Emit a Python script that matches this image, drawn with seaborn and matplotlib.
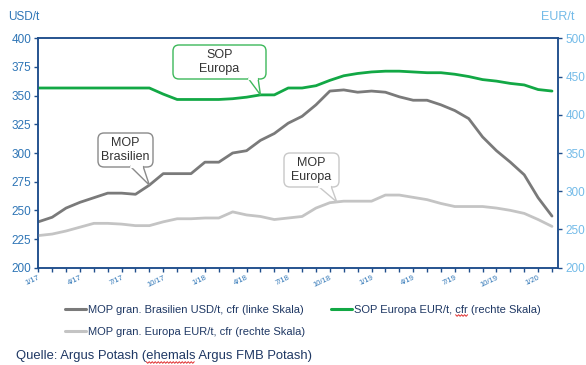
import matplotlib
matplotlib.use("Agg")
import matplotlib.pyplot as plt
import numpy as np
import pandas as pd
import seaborn as sns
from matplotlib.patches import FancyBboxPatch, Polygon
from matplotlib.lines import Line2D

# ---------------- data ----------------
months = ["1/17", "2/17", "3/17", "4/17", "5/17", "6/17", "7/17", "8/17", "9/17", "10/17", "11/17", "12/17",
          "1/18", "2/18", "3/18", "4/18", "5/18", "6/18", "7/18", "8/18", "9/18", "10/18", "11/18", "12/18",
          "1/19", "2/19", "3/19", "4/19", "5/19", "6/19", "7/19", "8/19", "9/19", "10/19", "11/19", "12/19",
          "1/20", "2/20"]
tick_labels = ["1/17", "4/17", "7/17", "10/17", "1/18", "4/18", "7/18", "10/18",
               "1/19", "4/19", "7/19", "10/19", "1/20"]
mop_brasilien_usd = [240, 244, 252, 257, 261, 265, 265, 264, 272, 282, 282, 282, 292, 292, 300,
                     302, 311, 317, 326, 332, 342, 354, 355, 353, 354, 353, 349, 346, 346, 342,
                     337, 330, 314, 302, 292, 281, 261, 245]
mop_europa_eur = [242, 244, 248, 253, 258, 258, 257, 255, 255, 260, 264, 264, 265, 265, 273,
                  269, 267, 263, 265, 267, 278, 285, 287, 287, 287, 295, 295, 292, 289, 284,
                  280, 280, 280, 278, 275, 271, 263, 254]
sop_europa_eur = [435, 435, 435, 435, 435, 435, 435, 435, 435, 427, 420, 420, 420, 420, 421,
                  423, 426, 426, 435, 435, 438, 445, 451, 454, 456, 457, 457, 456, 455, 455,
                  453, 450, 446, 444, 441, 439, 433, 431]

legend_labels = ["MOP gran. Brasilien USD/t, cfr (linke Skala)",
                 "MOP gran. Europa EUR/t, cfr (rechte Skala)",
                 "SOP Europa EUR/t, cfr (rechte Skala)"]
source_text = "Quelle: Argus Potash (ehemals Argus FMB Potash)"

df = pd.DataFrame({
    "idx": np.arange(len(months)),
    "month": months,
    "brasilien": mop_brasilien_usd,
    "europa": mop_europa_eur,
    "sop": sop_europa_eur,
})

# ---------------- style ----------------
sns.set_style("white")
plt.rcParams["font.family"] = ["Liberation Sans", "DejaVu Sans"]

C_DARK = "#7A7A7A"
C_LIGHT = "#C4C4C4"
C_GREEN = "#12A845"
C_SPINE = "#1F4E8C"
C_LEFT = "#2E75B6"
C_RIGHT = "#74BBE8"
C_NAVY = "#1F3864"

W, H = 586, 365
fig = plt.figure(figsize=(W / 100, H / 100), dpi=100)
fig.patch.set_facecolor("white")

left_px, right_px, top_px, bot_px = 38.3, 558.3, 38.3, 267.7
ax = fig.add_axes([left_px / W, 1 - bot_px / H, (right_px - left_px) / W, (bot_px - top_px) / H])
ax2 = ax.twinx()

sns.lineplot(data=df, x="idx", y="brasilien", ax=ax, color=C_DARK, lw=2.0)
sns.lineplot(data=df, x="idx", y="europa", ax=ax2, color=C_LIGHT, lw=2.0)
sns.lineplot(data=df, x="idx", y="sop", ax=ax2, color=C_GREEN, lw=2.0)

n = len(months)
ax.set_xlim(0, n - 1 + 6.3 / 13.88)
ax.set_ylim(200, 400)
ax2.set_ylim(200, 500)
for a in (ax, ax2):
    a.set_xlabel("")
    a.set_ylabel("")

ax.set_yticks(np.arange(200, 401, 25))
ax2.set_yticks(np.arange(200, 501, 50))
ax.set_xticks(df["idx"])
ax.set_xticklabels([m if m in tick_labels else "" for m in months], rotation=25, ha="right",
                   rotation_mode="anchor", fontsize=5.5, color=C_LEFT)

ax.tick_params(axis="y", colors=C_SPINE, labelcolor=C_LEFT, labelsize=8.5, length=3, width=1, pad=2,
               direction="out", left=True)
ax.tick_params(axis="x", colors=C_SPINE, labelcolor=C_LEFT, length=3, width=1, pad=2, direction="out",
               bottom=True)
ax2.tick_params(axis="y", colors=C_SPINE, labelcolor=C_RIGHT, labelsize=8.5, length=3, width=1, pad=2,
                direction="out", right=True)

for a in (ax, ax2):
    for s in a.spines.values():
        s.set_visible(True)
        s.set_color(C_SPINE)
        s.set_linewidth(1.1)
    a.grid(False)
    if a.get_legend():
        a.get_legend().remove()

fig.text(8 / W, 1 - 17 / H, "USD/t", fontsize=8.5, color=C_LEFT, va="center", ha="left")
fig.text(541 / W, 1 - 17 / H, "EUR/t", fontsize=9, color=C_RIGHT, va="center", ha="left")

# ---------------- legend ----------------
handles = [Line2D([], [], color=C_DARK, lw=2.2),
           Line2D([], [], color=C_LIGHT, lw=2.2),
           Line2D([], [], color=C_GREEN, lw=2.2)]
leg = fig.legend(handles, legend_labels, loc="upper left", bbox_to_anchor=(65 / W, 1 - 305 / H),
                 ncol=2, frameon=False, fontsize=8, labelcolor=C_NAVY, handlelength=1.9,
                 handletextpad=0.2, columnspacing=2.3, labelspacing=1.05, borderpad=0, borderaxespad=0)

src = fig.text(16 / W, 1 - 356 / H, source_text, fontsize=9.4, color=C_NAVY, va="center", ha="left")

fig.canvas.draw()
renderer = fig.canvas.get_renderer()
to_in = fig.dpi_scale_trans.inverted()


def squiggle(text_artist, prefix, word, fontsize):
    """red spell-check wave under a word of a text artist"""
    ext = text_artist.get_window_extent(renderer)
    tmp = fig.text(0, 0, prefix, fontsize=fontsize)
    w0 = tmp.get_window_extent(renderer).width
    tmp.set_text(prefix + word)
    w1 = tmp.get_window_extent(renderer).width
    tmp.remove()
    xa, xb = ext.x0 + w0, ext.x0 + w1
    y = ext.y0 - 0.5
    xs = np.arange(xa, xb + 0.1, 1.5)
    ys = y + np.where(np.arange(len(xs)) % 2 == 0, 0.8, -0.8)
    fig.add_artist(Line2D(xs, ys, transform=None, color="#E03030", lw=0.7, zorder=9))


squiggle(leg.get_texts()[2], "SOP Europa EUR/t, ", "cfr", 8)
squiggle(src, "Quelle: Argus Potash (", "ehemals", 9.4)

# ---------------- callouts ----------------


def callout(target_ax, xy, box_px, base_px, text, ec):
    x0, y0, x1, y1 = box_px  # ref pixel coordinates (top-down)
    bx, by = x0 / 100, (H - y1) / 100
    bw, bh = (x1 - x0) / 100, (y1 - y0) / 100
    tip = to_in.transform(target_ax.transData.transform(xy))
    b0 = (base_px[0] / 100, by + 0.01)
    b1 = (base_px[1] / 100, by + 0.01)
    box = FancyBboxPatch((bx, by), bw, bh, boxstyle="round,pad=0,rounding_size=0.06",
                         transform=fig.dpi_scale_trans, fc="white", ec=ec, lw=1.0, zorder=5)
    fig.add_artist(box)
    tri = Polygon([b0, tip, b1], closed=False, transform=fig.dpi_scale_trans,
                  fc="white", ec=ec, lw=1.0, zorder=6)
    fig.add_artist(tri)
    fig.add_artist(Line2D([b0[0] + 0.01, b1[0] - 0.01], [by + 0.005, by + 0.005],
                          transform=fig.dpi_scale_trans, color="white", lw=1.6, zorder=7))
    fig.text(bx + bw / 2, by + bh / 2, text, transform=fig.dpi_scale_trans, ha="center", va="center",
             fontsize=9, color="#333333", linespacing=1.2, zorder=8)


callout(ax2, (16, sop_europa_eur[16]), (173, 45, 266, 79), (248, 258), "SOP\nEuropa", "#3DB85A")
callout(ax, (8, mop_brasilien_usd[8]), (98, 133, 153, 167), (130, 143), "MOP\nBrasilien", "#8A8A8A")
callout(ax2, (21.5, (mop_europa_eur[21] + mop_europa_eur[22]) / 2), (284, 153, 339, 187), (318, 331),
        "MOP\nEuropa", "#C8C8C8")

fig.savefig("out.png", dpi=100)
